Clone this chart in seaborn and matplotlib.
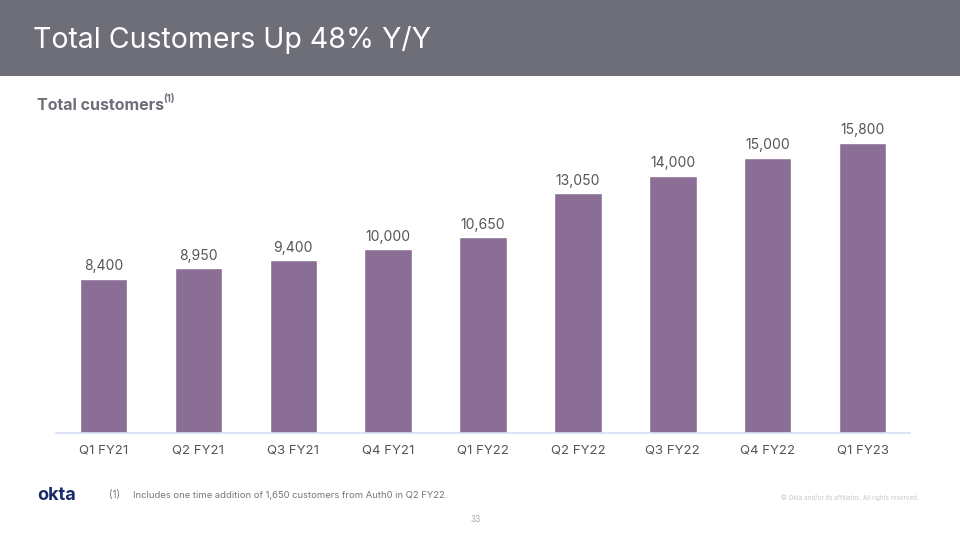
import matplotlib
matplotlib.use("Agg")
import matplotlib.pyplot as plt
import seaborn as sns
import pandas as pd

quarters = ["Q1 FY21", "Q2 FY21", "Q3 FY21", "Q4 FY21", "Q1 FY22",
            "Q2 FY22", "Q3 FY22", "Q4 FY22", "Q1 FY23"]
customers = [8400, 8950, 9400, 10000, 10650, 13050, 14000, 15000, 15800]
value_labels = ["8,400", "8,950", "9,400", "10,000", "10,650",
                "13,050", "14,000", "15,000", "15,800"]

title = "Total Customers Up 48% Y/Y"
subtitle = "Total customers"
footnote = "Includes one time addition of 1,650 customers from Auth0 in Q2 FY22."

sns.set_theme(style="white")
plt.rcParams["font.family"] = ["Inter", "DejaVu Sans"]

df = pd.DataFrame({"quarter": quarters, "customers": customers})

fig = plt.figure(figsize=(9.6, 5.4), dpi=100)
fig.patch.set_facecolor("white")

# header band
fig.add_artist(plt.Rectangle((0, 1 - 76 / 540), 1, 76 / 540, transform=fig.transFigure,
                             facecolor="#6e6e78", edgecolor="none", zorder=0))
fig.text(33 / 960, 1 - 40 / 540, title, color="white", fontsize=20.5, va="center", ha="left")
fig.text(37 / 960, 1 - 105 / 540, subtitle, color="#6e6e78", fontsize=11.5,
         fontweight="bold", va="center", ha="left")
fig.text(163 / 960, 1 - 99 / 540, "(1)", color="#6e6e78", fontsize=7,
         fontweight="bold", va="center", ha="left")

ax = fig.add_axes([56 / 960, (540 - 432.5) / 540, 854 / 960, 311.6 / 540])
sns.barplot(data=df, x="quarter", y="customers", color="#8a6e96", saturation=1,
            width=0.5, ax=ax)
ax.set_ylim(0, 17000)
ax.set_xlim(-0.5, len(quarters) - 0.5)
for i, (v, lab) in enumerate(zip(customers, value_labels)):
    ax.annotate(lab, (i, v), xytext=(0, 4), textcoords="offset points",
                ha="center", va="bottom", fontsize=10, color="#555555")
ax.set_xlabel("")
ax.set_ylabel("")
ax.set_yticks([])
for s in ["top", "right", "left"]:
    ax.spines[s].set_visible(False)
ax.spines["bottom"].set_color("#d6def2")
ax.spines["bottom"].set_linewidth(1.2)
ax.tick_params(axis="x", length=0, pad=9, labelsize=9.5, labelcolor="#555555")

# footer
fig.text(37 / 960, 1 - 495 / 540, "okta", color="#1a2b6b", fontsize=13,
         fontweight="bold", va="center", ha="left")
fig.text(109 / 960, 1 - 495 / 540, "(1)", color="#777777", fontsize=7, va="center", ha="left")
fig.text(133 / 960, 1 - 495 / 540, footnote, color="#777777", fontsize=6.8,
         va="center", ha="left")
fig.text(476 / 960, 1 - 519 / 540, "33", color="#aaaaaa", fontsize=6, va="center", ha="center")
fig.text(919 / 960, 1 - 498 / 540, "© Okta and/or its affiliates. All rights reserved.",
         color="#c8c8c8", fontsize=4.5, va="center", ha="right")

fig.savefig("out.png", dpi=100)
